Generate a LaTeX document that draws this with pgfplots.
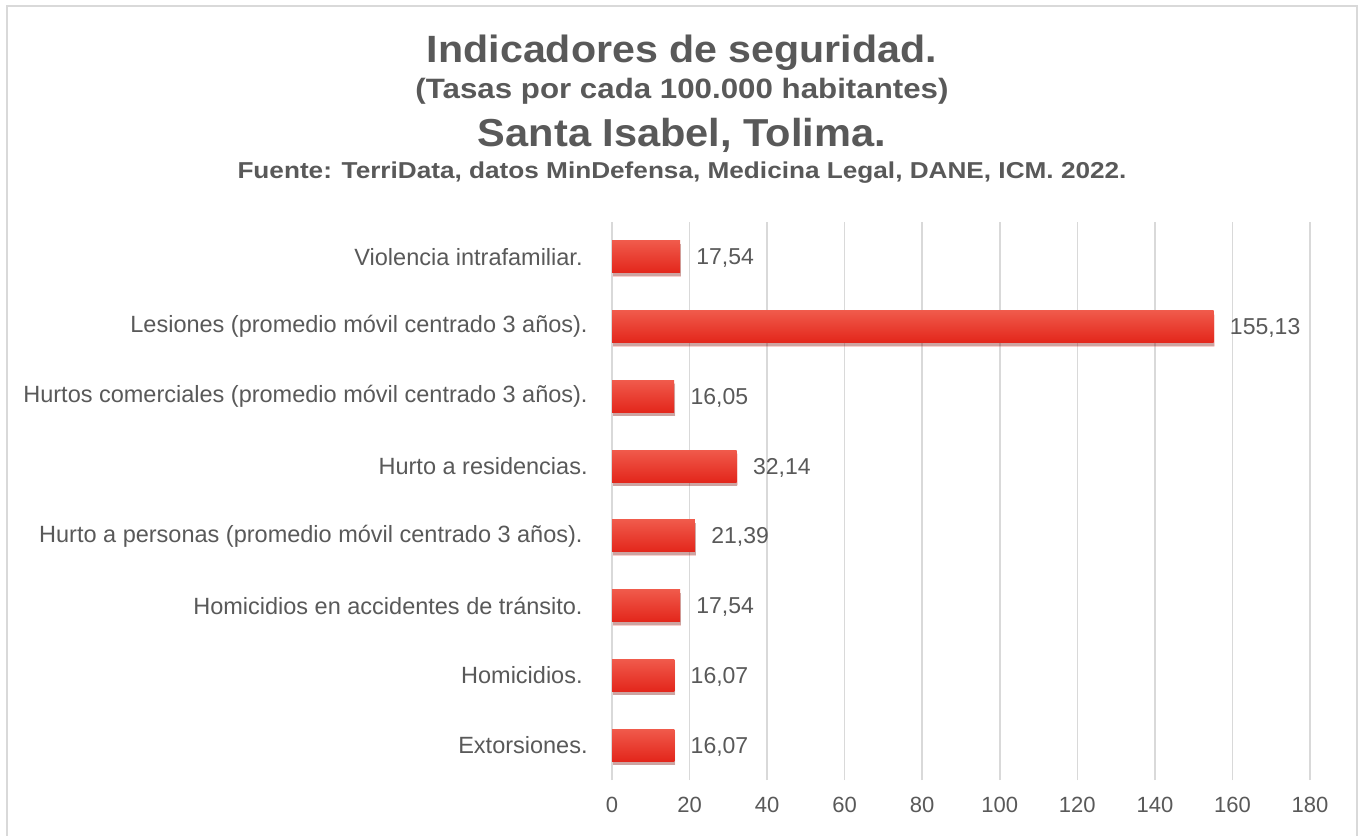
\documentclass[border=0pt]{standalone}
\usepackage{pgfplots}
\pgfplotsset{compat=1.18}
\usepackage{fontspec}
\setmainfont{Liberation Sans}
\usetikzlibrary{shadows}
\definecolor{txt}{HTML}{595959}
\definecolor{gridc}{HTML}{D9D9D9}
\definecolor{bartop}{HTML}{F05A4B}
\definecolor{barbot}{HTML}{E3261B}
\begin{document}
\begin{tikzpicture}
\clip (0,0) rectangle (681.5pt,417.5pt);
\fill[white] (0,0) rectangle (681.5pt,417.5pt);
\draw[gridc, line width=1pt] (3.5pt,-5pt) -- (3.5pt,414.5pt) -- (678.5pt,414.5pt) -- (678.5pt,-5pt);
\node[anchor=base, inner sep=0pt, text=txt] at (341pt,386pt) {\resizebox{255pt}{\height}{\fontsize{19}{22}\selectfont\bfseries Indicadores de seguridad.}};
\node[anchor=base, inner sep=0pt, text=txt] at (341pt,368pt) {\resizebox{266.5pt}{\height}{\fontsize{14}{17}\selectfont\bfseries (Tasas por cada 100.000 habitantes)}};
\node[anchor=base, inner sep=0pt, text=txt] at (341pt,344pt) {\resizebox{204pt}{\height}{\fontsize{19.5}{22}\selectfont\bfseries Santa Isabel, Tolima.}};
\node[anchor=base, inner sep=0pt, text=txt] at (341pt,328pt) {\resizebox{444.5pt}{\height}{\fontsize{11.5}{13}\selectfont\bfseries Fuente: TerriData, datos MinDefensa, Medicina Legal, DANE, ICM. 2022.}};
\begin{axis}[
  at={(306pt,27.5pt)}, anchor=south west, scale only axis,
  width=349pt, height=279pt,
  xbar, bar width=16pt, bar shift=0pt,
  xmin=0, xmax=180, ymin=-0.5, ymax=7.5,
  xtick={0,20,...,180}, ytick={0,...,7},
  yticklabels={Extorsiones., Homicidios.\kern2.5pt, Homicidios en accidentes de tránsito.\kern2.5pt, Hurto a personas (promedio móvil centrado 3 años).\kern2.5pt, Hurto a residencias., Hurtos comerciales (promedio móvil centrado 3 años)., Lesiones (promedio móvil centrado 3 años)., Violencia intrafamiliar.\kern2.5pt},
  axis line style={draw=none}, major tick length=0pt,
  xmajorgrids, grid style={gridc, line width=0.75pt},
  tick label style={text=txt},
  yticklabel style={font=\fontsize{11.75}{13}\selectfont, inner sep=0pt, xshift=-12pt, anchor=east},
  xticklabel style={font=\fontsize{11}{13}\selectfont, inner sep=0pt, yshift=-8.5pt, anchor=north},
  /pgf/number format/assume math mode=true,
  point meta=explicit symbolic,
  nodes near coords,
  every node near coord/.append style={anchor=west, inner sep=0pt, xshift=8pt, text=txt, font=\fontsize{11.5}{13}\selectfont, text depth=0pt},
  barstyle/.style={xbar, bar width=16pt, bar shift=0pt, draw=none, top color=bartop, bottom color=barbot,
    drop shadow={shadow xshift=0.4pt, shadow yshift=-1.8pt, fill=black, opacity=0.22}},
]
\addplot[barstyle] coordinates {(16.07,0) [16,07]};
\addplot[barstyle] coordinates {(16.07,1) [16,07]};
\addplot[barstyle] coordinates {(17.54,2) [17,54]};
\addplot[barstyle] coordinates {(21.39,3) [21,39]};
\addplot[barstyle] coordinates {(32.14,4) [32,14]};
\addplot[barstyle] coordinates {(16.05,5) [16,05]};
\addplot[barstyle] coordinates {(155.13,6) [155,13]};
\addplot[barstyle] coordinates {(17.54,7) [17,54]};
\end{axis}
\end{tikzpicture}
\end{document}
